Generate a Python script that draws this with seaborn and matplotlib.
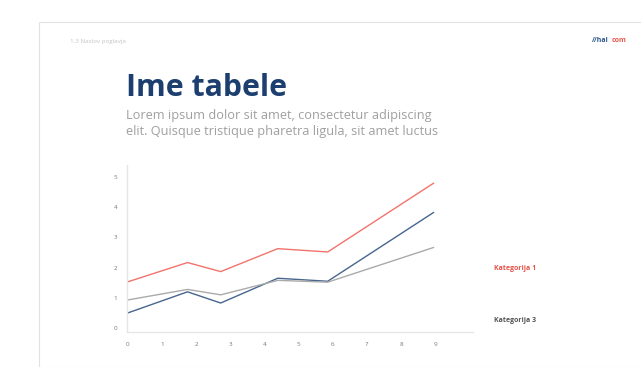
import matplotlib
matplotlib.use("Agg")
import matplotlib.pyplot as plt
import seaborn as sns
import pandas as pd
from matplotlib.patches import Rectangle

# --- Data ---
x_pos = [0, 1.75, 2.72, 4.39, 5.85, 8.95]
kategorija_1 = [1.53, 2.17, 1.87, 2.63, 2.52, 4.80]
kategorija_2 = [0.50, 1.20, 0.83, 1.65, 1.55, 3.83]
kategorija_3 = [0.93, 1.28, 1.10, 1.58, 1.52, 2.67]
x_ticks = list(range(10))
y_ticks = list(range(6))

df = pd.DataFrame({
    "x": x_pos * 3,
    "y": kategorija_1 + kategorija_2 + kategorija_3,
    "serija": ["Kategorija 1"] * 6 + ["Kategorija 2"] * 6 + ["Kategorija 3"] * 6,
})
palette = {"Kategorija 1": "#f2736b", "Kategorija 2": "#46658f", "Kategorija 3": "#aaaaaa"}

sns.set_theme(style="white")
plt.rcParams["font.family"] = ["Open Sans", "DejaVu Sans"]

W, H = 641, 367
fig = plt.figure(figsize=(W / 100, H / 100), dpi=100)
fig.patch.set_facecolor("white")

# slide frame
fig.patches.append(Rectangle((39 / W, 0), 1, 1 - 22 / H, transform=fig.transFigure,
                             fill=False, edgecolor="#e2e2e2", linewidth=0.8))

# header texts
fig.text(70 / W, 1 - 41 / H, "1.3 Naslov poglavja", fontsize=4.5, color="#c4c4c4", va="center")
fig.text(592 / W, 1 - 41 / H, "//hal", fontsize=5, color="#2f5a8e", va="center", weight="bold")
fig.text(612 / W, 1 - 41 / H, "com", fontsize=5, color="#e8534a", va="center", weight="bold")

fig.text(126 / W, 1 - 88 / H, "Ime tabele", fontsize=21.8, color="#1d3f70",
         weight="bold", va="center")
fig.text(126 / W, 1 - 116 / H, "Lorem ipsum dolor sit amet, consectetur adipiscing",
         fontsize=9.2, color="#a0a0a0", va="center")
fig.text(126 / W, 1 - 131 / H, "elit. Quisque tristique pharetra ligula, sit amet luctus",
         fontsize=9.2, color="#a0a0a0", va="center")

# chart area
ax = fig.add_axes([127 / W, 35 / H, 346 / W, 167 / H])
sns.lineplot(data=df, x="x", y="y", hue="serija", palette=palette, linewidth=1.0,
             legend=False, ax=ax)
ax.set_xlim(-0.02, 10.1)
ax.set_ylim(-0.13, 5.4)
ax.set_xticks(x_ticks)
ax.set_yticks(y_ticks)
ax.tick_params(axis="both", length=0, labelsize=4.5, colors="#777777", pad=7)
ax.set_xlabel("")
ax.set_ylabel("")
for side in ["top", "right"]:
    ax.spines[side].set_visible(False)
for side in ["left", "bottom"]:
    ax.spines[side].set_color("#e6e6e6")
    ax.spines[side].set_linewidth(1.0)

# series labels at the right
fig.text(494 / W, 1 - 268 / H, "Kategorija 1", fontsize=5, color="#e8534a",
         weight="bold", va="center")
fig.text(494 / W, 1 - 320 / H, "Kategorija 3", fontsize=5, color="#555555",
         weight="bold", va="center")

fig.savefig("out.png", dpi=100)
